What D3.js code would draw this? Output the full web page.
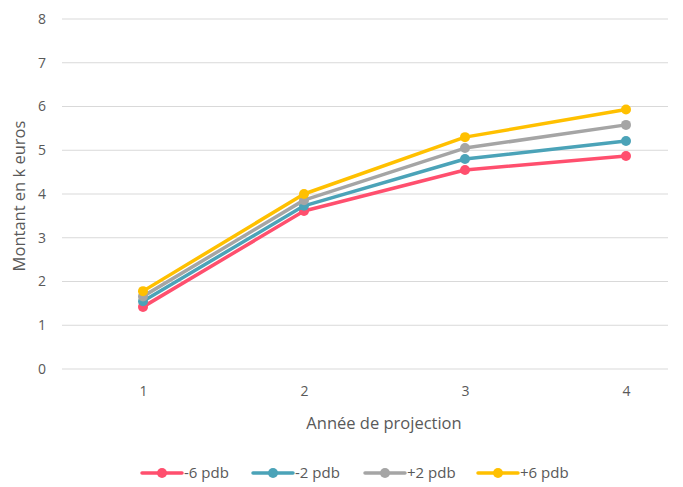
<!DOCTYPE html>
<html>
<head>
<meta charset="utf-8">
<script src="https://cdn.jsdelivr.net/npm/d3@7"></script>
<style>
  html, body { margin: 0; padding: 0; background: #fff; }
  svg { display: block; font-family: "Open Sans", "Liberation Sans", sans-serif; }
</style>
</head>
<body>
<svg id="chart" width="683" height="487"></svg>
<script>
// Projection years and simulated amounts (k euros) per rate scenario
const years = [1, 2, 3, 4];
const seriesNames = ["-6 pdb", "-2 pdb", "+2 pdb", "+6 pdb"];
const seriesColors = ["#FF4F6E", "#4BA3B8", "#A5A5A5", "#FFC000"];
const minus6 = [1.42, 3.61, 4.55, 4.87];
const minus2 = [1.55, 3.73, 4.80, 5.21];
const plus2 = [1.66, 3.86, 5.05, 5.58];
const plus6 = [1.78, 4.00, 5.30, 5.93];
const yTicks = [0, 1, 2, 3, 4, 5, 6, 7, 8];

const seriesValues = [minus6, minus2, plus2, plus6];

const svg = d3.select("#chart");
const plotLeft = 62, plotRight = 668, plotTop = 19, plotBottom = 369;

const x = d3.scalePoint().domain(years).range([143, 626]);
const y = d3.scaleLinear().domain([0, 8]).range([plotBottom, plotTop]);

// Horizontal gridlines
svg.append("g")
  .selectAll("line")
  .data(yTicks)
  .join("line")
  .attr("x1", plotLeft).attr("x2", plotRight)
  .attr("y1", d => y(d)).attr("y2", d => y(d))
  .attr("stroke", "#D9D9D9").attr("stroke-width", 1);

// Y axis labels
const yAxis = svg.append("g")
  .attr("transform", `translate(${plotLeft},0)`)
  .call(d3.axisLeft(y).tickValues(yTicks).tickSize(0).tickPadding(16));
yAxis.select(".domain").remove();
yAxis.selectAll("text").attr("fill", "#595959").style("font-size", "14px")
  .style("font-family", "'Open Sans', sans-serif");

// X axis labels
const xAxis = svg.append("g")
  .attr("transform", `translate(0,${plotBottom})`)
  .call(d3.axisBottom(x).tickSize(0).tickPadding(17));
xAxis.select(".domain").remove();
xAxis.selectAll("text").attr("fill", "#595959").style("font-size", "14px")
  .style("font-family", "'Open Sans', sans-serif");

// Axis titles
svg.append("text")
  .attr("transform", `translate(25,${(plotTop + plotBottom) / 2 + 2}) rotate(-90)`)
  .attr("text-anchor", "middle")
  .attr("fill", "#595959").style("font-size", "16.5px")
  .text("Montant en k euros");

svg.append("text")
  .attr("x", 384).attr("y", 429)
  .attr("text-anchor", "middle")
  .attr("fill", "#595959").style("font-size", "16.5px")
  .text("Année de projection");

// Lines with markers
const line = d3.line().x((d, i) => x(years[i])).y(d => y(d));

seriesValues.forEach((vals, si) => {
  const g = svg.append("g");
  g.append("path")
    .datum(vals)
    .attr("d", line)
    .attr("fill", "none")
    .attr("stroke", seriesColors[si])
    .attr("stroke-width", 3.5)
    .attr("stroke-linejoin", "round")
    .attr("stroke-linecap", "round");
  g.selectAll("circle")
    .data(vals)
    .join("circle")
    .attr("cx", (d, i) => x(years[i]))
    .attr("cy", d => y(d))
    .attr("r", 5)
    .attr("fill", seriesColors[si]);
});

// Legend
const legendX = [142, 253, 365, 478];
const legendY = 473;
const legend = svg.append("g");
seriesNames.forEach((name, i) => {
  const lx = legendX[i];
  legend.append("line")
    .attr("x1", lx).attr("x2", lx + 40)
    .attr("y1", legendY).attr("y2", legendY)
    .attr("stroke", seriesColors[i]).attr("stroke-width", 3.5)
    .attr("stroke-linecap", "round");
  legend.append("circle")
    .attr("cx", lx + 20).attr("cy", legendY).attr("r", 5)
    .attr("fill", seriesColors[i]);
  legend.append("text")
    .attr("x", lx + 42).attr("y", legendY + 5)
    .attr("fill", "#595959").style("font-size", "15px")
    .text(name);
});
</script>
</body>
</html>
